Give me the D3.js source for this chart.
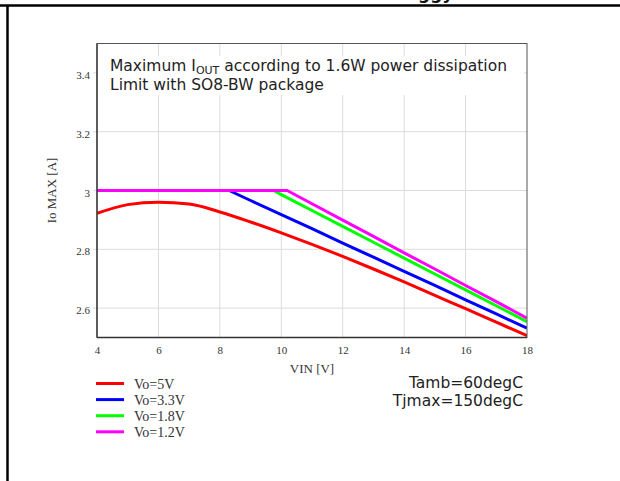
<!DOCTYPE html>
<html>
<head>
<meta charset="utf-8">
<script src="https://cdn.jsdelivr.net/npm/d3@7"></script>
<style>
  html, body { margin: 0; padding: 0; background: #fff; }
  svg { display: block; }
</style>
</head>
<body>
<svg id="chart" width="620" height="481"></svg>
<script>
// ---- data ----
const xTicks = [4, 6, 8, 10, 12, 14, 16, 18];
const yTicks = [2.6, 2.8, 3.0, 3.2, 3.4];
const yTickLabels = ["2.6", "2.8", "3", "3.2", "3.4"];

const vinRed = [4, 5, 6, 7, 8, 9, 10, 11, 12, 13, 14, 15, 16, 17, 18];
const ioRed  = [2.922, 2.952, 2.960, 2.954, 2.927, 2.893, 2.856, 2.817, 2.776, 2.733, 2.689, 2.643, 2.598, 2.552, 2.506];

const vinBlue = [4, 8.3, 9, 10, 11, 12, 13, 14, 15, 16, 17, 18];
const ioBlue  = [3.0, 3.0, 2.966, 2.918, 2.870, 2.821, 2.773, 2.725, 2.677, 2.628, 2.580, 2.532];

const vinGreen = [4, 9.75, 10, 11, 12, 13, 14, 15, 16, 17, 18];
const ioGreen  = [3.0, 3.0, 2.986, 2.932, 2.878, 2.824, 2.770, 2.716, 2.662, 2.608, 2.554];

const vinMag = [4, 10.19, 11, 12, 13, 14, 15, 16, 17, 18];
const ioMag  = [3.0, 3.0, 2.955, 2.899, 2.844, 2.788, 2.733, 2.677, 2.622, 2.566];

const seriesNames = ["Vo=5V", "Vo=3.3V", "Vo=1.8V", "Vo=1.2V"];
const seriesColors = ["#ff0000", "#0000ff", "#00ff00", "#ff00ff"];

const titleLine1 = ["Maximum I", "OUT", " according to 1.6W power dissipation"];
const titleLine2 = "Limit with SO8-BW package";
const noteLines = ["Tamb=60degC", "Tjmax=150degC"];

// ---- layout ----
const svg = d3.select("#chart");
const L = 97, R = 527, T = 43.5, B = 337.5;

const x = d3.scaleLinear().domain([4, 18]).range([L, R]);
const y = d3.scaleLinear().domain([2.5, 3.5]).range([B, T]);

// page frame lines
svg.append("line").attr("x1", 0).attr("x2", 620).attr("y1", 5.5).attr("y2", 5.5)
  .attr("stroke", "#000").attr("stroke-width", 2.5);
svg.append("line").attr("x1", 7.5).attr("x2", 7.5).attr("y1", 5).attr("y2", 481)
  .attr("stroke", "#000").attr("stroke-width", 2.5);

// cut-off text at top
svg.append("text").attr("x", 418).attr("y", -1.5)
  .attr("font-family", "DejaVu Sans, sans-serif").attr("font-size", 17).attr("font-weight", "bold")
  .attr("fill", "#111").text("ggy");

// grid
const grid = svg.append("g");
grid.selectAll(".vg").data(xTicks.slice(1, -1)).enter().append("line")
  .attr("x1", d => x(d)).attr("x2", d => x(d)).attr("y1", T).attr("y2", B)
  .attr("stroke", "#dcdcdc").attr("stroke-width", 1);
grid.selectAll(".hg").data(yTicks).enter().append("line")
  .attr("x1", L - 4).attr("x2", R).attr("y1", d => y(d)).attr("y2", d => y(d))
  .attr("stroke", "#dcdcdc").attr("stroke-width", 1);

// white box behind annotation
svg.append("rect").attr("x", L + 1).attr("y", 56).attr("width", R - L - 4).attr("height", 39)
  .attr("fill", "#fff");

// annotation
const sans = "DejaVu Sans, Verdana, sans-serif";
const t1 = svg.append("text").attr("x", 110).attr("y", 71)
  .attr("font-family", sans).attr("font-size", 15.5).attr("fill", "#222");
t1.append("tspan").text(titleLine1[0]);
t1.append("tspan").attr("font-size", 11).attr("dy", 3).text(titleLine1[1]);
t1.append("tspan").attr("dy", -3).text(titleLine1[2]);
svg.append("text").attr("x", 110).attr("y", 90)
  .attr("font-family", sans).attr("font-size", 15.5).attr("fill", "#222")
  .text(titleLine2);

// lines
svg.append("clipPath").attr("id", "clip").append("rect")
  .attr("x", L).attr("y", T).attr("width", R - L).attr("height", B - T + 2);

const series = [
  { xs: vinRed, ys: ioRed, curve: d3.curveMonotoneX },
  { xs: vinBlue, ys: ioBlue, curve: d3.curveLinear },
  { xs: vinGreen, ys: ioGreen, curve: d3.curveLinear },
  { xs: vinMag, ys: ioMag, curve: d3.curveLinear }
];
const gLines = svg.append("g").attr("clip-path", "url(#clip)");
series.forEach((s, i) => {
  const pts = s.xs.map((v, k) => [v, s.ys[k]]);
  const line = d3.line().x(d => x(d[0])).y(d => y(d[1])).curve(s.curve);
  gLines.append("path").attr("d", line(pts)).attr("fill", "none")
    .attr("stroke", seriesColors[i]).attr("stroke-width", 3).attr("stroke-linejoin", "round");
});

// frame
svg.append("rect").attr("x", L).attr("y", T).attr("width", R - L).attr("height", B - T)
  .attr("fill", "none").attr("stroke", "#555").attr("stroke-width", 1);
svg.append("line").attr("x1", L).attr("x2", L).attr("y1", T).attr("y2", B)
  .attr("stroke", "#333").attr("stroke-width", 1.3);
svg.append("line").attr("x1", L).attr("x2", R).attr("y1", B).attr("y2", B)
  .attr("stroke", "#333").attr("stroke-width", 1.3);

// axes tick labels via d3 axes
const serif = "Liberation Serif, Times New Roman, serif";
const xAxis = d3.axisBottom(x).tickValues(xTicks).tickSize(0).tickPadding(9).tickFormat(d3.format("d"));
const gx = svg.append("g").attr("transform", `translate(0,${B})`).call(xAxis);
gx.select(".domain").remove();
gx.selectAll("text").attr("font-family", serif).attr("font-size", 11).attr("fill", "#333");

const yAxis = d3.axisLeft(y).tickValues(yTicks).tickSize(0).tickPadding(7)
  .tickFormat((d, i) => yTickLabels[i]);
const gy = svg.append("g").attr("transform", `translate(${L},0)`).call(yAxis);
gy.select(".domain").remove();
gy.selectAll("text").attr("font-family", serif).attr("font-size", 11).attr("fill", "#333").attr("dy", "0.5em");

// axis titles
svg.append("text").attr("x", (L + R) / 2).attr("y", 373).attr("text-anchor", "middle")
  .attr("font-family", serif).attr("font-size", 13).attr("fill", "#333")
  .text("VIN [V]");
svg.append("text").attr("transform", `translate(56,${(T + B) / 2}) rotate(-90)`)
  .attr("text-anchor", "middle")
  .attr("font-family", serif).attr("font-size", 13).attr("fill", "#333")
  .text("Io MAX [A]");

// legend
const lg = svg.append("g");
seriesNames.forEach((n, i) => {
  const yy = 383.5 + i * 16.1;
  lg.append("line").attr("x1", 96).attr("x2", 124).attr("y1", yy).attr("y2", yy)
    .attr("stroke", seriesColors[i]).attr("stroke-width", 3);
  lg.append("text").attr("x", 134).attr("y", yy + 5)
    .attr("font-family", serif).attr("font-size", 14).attr("fill", "#333")
    .text(n);
});

// notes
noteLines.forEach((n, i) => {
  svg.append("text").attr("x", 523).attr("y", 388 + i * 17.5).attr("text-anchor", "end")
    .attr("font-family", sans).attr("font-size", 15.5).attr("fill", "#222")
    .text(n);
});
</script>
</body>
</html>
